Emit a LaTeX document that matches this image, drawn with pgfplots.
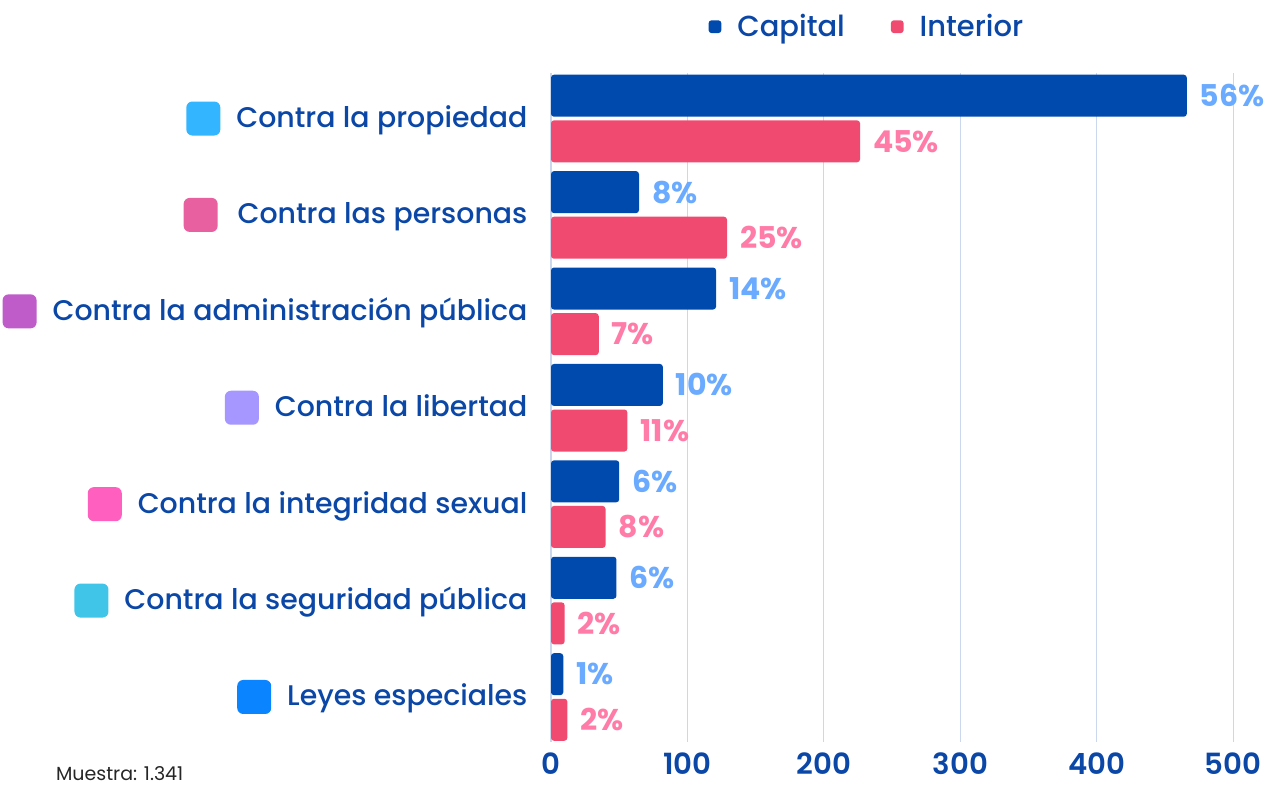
\documentclass[border=0pt]{standalone}
\usepackage{pgfplots}
\pgfplotsset{compat=1.18}
\usepackage{pgfplotstable}
\usepackage{fontspec}
\setmainfont{Poppins}
\newfontfamily\pmed{Poppins Medium}
\newfontfamily\psemi{Poppins SemiBold}
\definecolor{capc}{HTML}{004AAD}
\definecolor{intc}{HTML}{F04A70}
\definecolor{capl}{HTML}{6AAAFF}
\definecolor{intl}{HTML}{FF7BA8}
\definecolor{txtb}{HTML}{0B47A6}
\definecolor{gridc}{HTML}{CAD7EC}
\definecolor{sqa}{HTML}{33B5FF}
\definecolor{sqb}{HTML}{E8609F}
\definecolor{sqc}{HTML}{BF5CC9}
\definecolor{sqd}{HTML}{A597FF}
\definecolor{sqe}{HTML}{FF5FBE}
\definecolor{sqf}{HTML}{40C4E8}
\definecolor{sqg}{HTML}{0A84FF}
\newcommand{\sq}[1]{\tikz[baseline=-4.5pt]\fill[#1,rounded corners=3pt] (0,-8.5pt) rectangle (17pt,8.5pt);\hspace{8pt}}
\pgfplotstableread{
y cap capl int intl
6 466 56 226.5 45
5 64.5 8 129 25
4 121 14 35 7
3 82 10 56 11
2 50 6 40 8
1 48 6 10 2
0 9 1 12 2
}\datatab
\begin{document}
\begin{tikzpicture}
\useasboundingbox (0,0) rectangle (634pt,-392.5pt);
\begin{axis}[
  at={(275.5pt,-36.75pt)}, anchor=north west,
  scale only axis, width=358.5pt, height=334.25pt,
  xmin=0, xmax=525.5, ymin=-0.467, ymax=6.467,
  xbar, bar width=21pt,
  axis line style={draw=none},
  major tick style={draw=none},
  xmajorgrids, grid style={gridc, line width=0.6pt},
  xtick={0,100,200,300,400,500},
  ytick={0,1,2,3,4,5,6},
  yticklabels={\sq{sqg}Leyes especiales, \sq{sqf}Contra la seguridad pública, \sq{sqe}Contra la integridad sexual, \sq{sqd}Contra la libertad, \sq{sqc}Contra la administración pública, \sq{sqb}\hspace{2pt}Contra las personas, \sq{sqa}Contra la propiedad},
  yticklabel style={font=\pmed\fontsize{14.2}{15}\selectfont, text=txtb, xshift=-4pt},
  xticklabel style={font=\psemi\fontsize{14.6}{16}\selectfont, text=txtb, inner ysep=0.5pt, yshift=-4.5pt},
  /pgf/number format/assume math mode=true,
  clip=false,
  point meta=explicit symbolic,
  nodes near coords={\pgfplotspointmeta\%},
  every node near coord/.append style={font=\bfseries\fontsize{15}{16}\selectfont, anchor=west, xshift=3pt},
  legend columns=2,
  legend style={draw=none, at={(0.442,1.07)}, anchor=center, font=\pmed\fontsize{14.5}{16}\selectfont, text=txtb,
    /tikz/every odd column/.append style={column sep=6pt},
    /tikz/every even column/.append style={column sep=21pt}},
  legend image code/.code={\fill (0pt,-3.2pt) rectangle (6.4pt,3.2pt);},
]
\addplot[fill=capc, draw=none, rounded corners=1.5pt, bar shift=11.4pt, every node near coord/.append style={text=capl}] table[x=cap, y=y, meta=capl] {\datatab};
\addplot[fill=intc, draw=none, rounded corners=1.5pt, bar shift=-11.4pt, every node near coord/.append style={text=intl}] table[x=int, y=y, meta=intl] {\datatab};
\legend{Capital, Interior}
\end{axis}
\node[anchor=west, font=\fontsize{9.5}{11}\selectfont, text=black!85] at (24.5pt,-387pt) {Muestra: 1.341};
\end{tikzpicture}
\end{document}
